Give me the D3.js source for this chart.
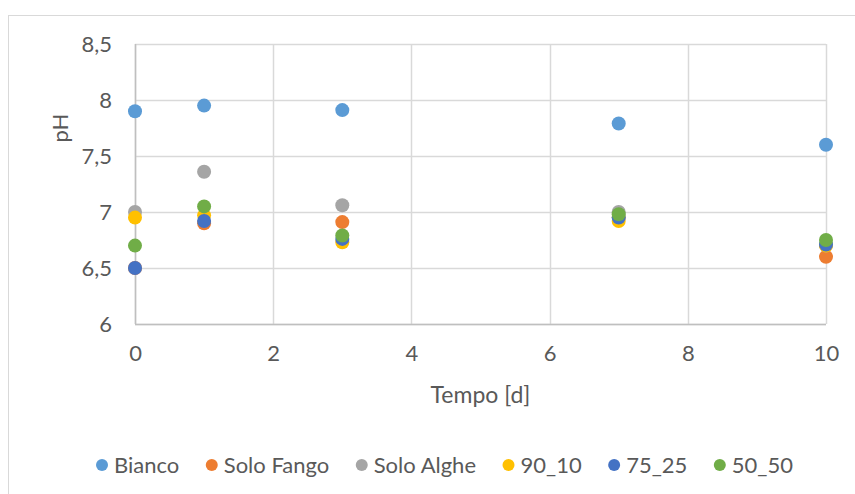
<!DOCTYPE html>
<html>
<head>
<meta charset="utf-8">
<script src="https://cdn.jsdelivr.net/npm/d3@7"></script>
<style>
  body { margin: 0; background: #fff; }
  text { font-family: Lato, "Open Sans", sans-serif; fill: #595959; }
</style>
</head>
<body>
<script>
const width = 855;
const height = 494;

// data
const days = [0, 1, 3, 7, 10];
const seriesNames = ["Bianco", "Solo Fango", "Solo Alghe", "90_10", "75_25", "50_50"];
const seriesColors = ["#5B9BD5", "#ED7D31", "#A5A5A5", "#FFC000", "#4472C4", "#70AD47"];
const bianco    = [7.90, 7.95, 7.91, 7.79, 7.60];
const soloFango = [6.50, 6.90, 6.91, 6.95, 6.60];
const soloAlghe = [7.00, 7.36, 7.06, 7.00, 6.70];
const s90_10    = [6.95, 6.97, 6.73, 6.92, 6.70];
const s75_25    = [6.50, 6.92, 6.76, 6.95, 6.71];
const s50_50    = [6.70, 7.05, 6.79, 6.98, 6.75];
const seriesValues = [bianco, soloFango, soloAlghe, s90_10, s75_25, s50_50];
const xTicks = [0, 2, 4, 6, 8, 10];
const yTicks = [6, 6.5, 7, 7.5, 8, 8.5];

const margin = {top: 44, right: 29, bottom: 170, left: 135};
const plotW = width - margin.left - margin.right;
const plotH = height - margin.top - margin.bottom;
const fontSize = "22px";

const x = d3.scaleLinear().domain([0, 10]).range([0, plotW]);
const y = d3.scaleLinear().domain([6, 8.5]).range([plotH, 0]);
const fmt = d => String(d).replace(".", ",");

const svg = d3.select("body").append("svg")
    .attr("width", width)
    .attr("height", height);

// chart border
svg.append("rect")
    .attr("x", 8.5).attr("y", 15.5)
    .attr("width", 860).attr("height", 490)
    .attr("fill", "none").attr("stroke", "#d9d9d9");

const g = svg.append("g")
    .attr("transform", `translate(${margin.left},${margin.top})`);

// grid
g.selectAll(".hgrid").data(yTicks).enter().append("line")
    .attr("x1", 0).attr("x2", plotW)
    .attr("y1", d => Math.round(y(d)) + 0.5).attr("y2", d => Math.round(y(d)) + 0.5)
    .attr("stroke", "#d9d9d9").attr("stroke-width", 1.5);
g.selectAll(".vgrid").data(xTicks).enter().append("line")
    .attr("y1", 0).attr("y2", plotH)
    .attr("x1", d => Math.round(x(d)) + 0.5).attr("x2", d => Math.round(x(d)) + 0.5)
    .attr("stroke", "#d9d9d9").attr("stroke-width", 1.5);

// axis lines
g.append("line").attr("x1", 0.5).attr("x2", 0.5).attr("y1", 0).attr("y2", plotH)
    .attr("stroke", "#bfbfbf").attr("stroke-width", 1.5);
g.append("line").attr("x1", 0).attr("x2", plotW).attr("y1", plotH + 0.5).attr("y2", plotH + 0.5)
    .attr("stroke", "#bfbfbf").attr("stroke-width", 1.5);

// tick labels
const yAxis = d3.axisLeft(y).tickValues(yTicks).tickFormat(fmt).tickSize(0).tickPadding(23);
const yAx = g.append("g").call(yAxis);
yAx.select(".domain").remove();
yAx.selectAll("text").style("font-size", fontSize).attr("fill", "#595959");

const xAxis = d3.axisBottom(x).tickValues(xTicks).tickFormat(fmt).tickSize(0).tickPadding(21);
const xAx = g.append("g").attr("transform", `translate(0,${plotH})`).call(xAxis);
xAx.select(".domain").remove();
xAx.selectAll("text").style("font-size", fontSize).attr("fill", "#595959");

// axis titles
svg.append("text")
    .attr("transform", `translate(68,${margin.top + y(7.75)}) rotate(-90)`)
    .attr("text-anchor", "middle")
    .style("font-size", fontSize)
    .text("pH");
svg.append("text")
    .attr("x", margin.left + plotW / 2).attr("y", 403)
    .attr("text-anchor", "middle")
    .style("font-size", "23px")
    .text("Tempo [d]");

// points
seriesValues.forEach((vals, i) => {
    g.append("g").selectAll("circle")
        .data(days.map((d, j) => ({d: d, v: vals[j]})))
        .enter().append("circle")
        .attr("cx", p => x(p.d))
        .attr("cy", p => y(p.v))
        .attr("r", 7)
        .attr("fill", seriesColors[i]);
});

// legend
const legend = svg.append("g").attr("transform", "translate(102,465)");
let lx = 0;
seriesNames.forEach((name, i) => {
    const it = legend.append("g").attr("transform", `translate(${lx},0)`);
    it.append("circle").attr("cx", 0).attr("cy", 0).attr("r", 6).attr("fill", seriesColors[i]);
    const t = it.append("text").attr("x", 12).attr("y", 8)
        .style("font-size", fontSize).text(name);
    const w = t.node().getComputedTextLength();
    lx += 12 + w + 32.5;
});
</script>
</body>
</html>
